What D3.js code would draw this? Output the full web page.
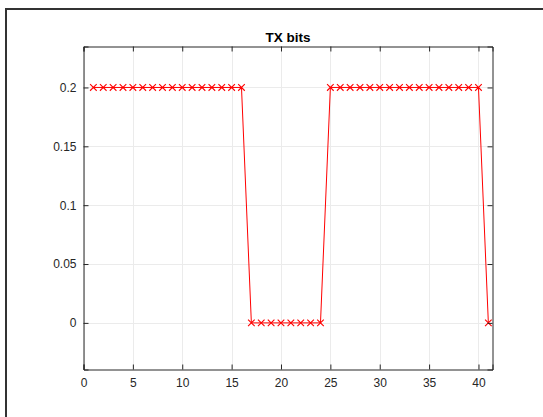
<!DOCTYPE html>
<html>
<head>
<meta charset="utf-8">
<script src="https://cdn.jsdelivr.net/npm/d3@7"></script>
<style>
body { margin: 0; background: #fff; }
svg { display: block; font-family: Helvetica, "Liberation Sans", Arial, sans-serif; }
</style>
</head>
<body>
<svg id="chart" width="543" height="417"></svg>
<script>
// bit index and transmitted level
const samples = d3.range(1, 42);
const levels = [
  0.2, 0.2, 0.2, 0.2, 0.2, 0.2, 0.2, 0.2, 0.2, 0.2, 0.2, 0.2, 0.2, 0.2, 0.2, 0.2,
  0, 0, 0, 0, 0, 0, 0, 0,
  0.2, 0.2, 0.2, 0.2, 0.2, 0.2, 0.2, 0.2, 0.2, 0.2, 0.2, 0.2, 0.2, 0.2, 0.2, 0.2,
  0
];
const xTicks = [0, 5, 10, 15, 20, 25, 30, 35, 40];
const yTicks = [0, 0.05, 0.1, 0.15, 0.2];
const data = samples.map((s, i) => ({ x: s, y: levels[i] }));

const svg = d3.select('#chart');
const L = 83.5, R = 492.5, T = 46.5, B = 369.5;

// figure frame
svg.append('path')
  .attr('d', `M6,417 V9 H543`)
  .attr('fill', 'none')
  .attr('stroke', '#333')
  .attr('stroke-width', 2);

const xScale = d3.scaleLinear().domain([0, 41.42]).range([L, R]);
const yScale = d3.scaleLinear().domain([-0.0396, 0.2348]).range([B, T]);

// grid
const grid = svg.append('g').attr('stroke', '#ebebeb').attr('stroke-width', 1);
grid.selectAll('.gx').data(xTicks).join('line')
  .attr('x1', d => Math.round(xScale(d)) + 0.5).attr('x2', d => Math.round(xScale(d)) + 0.5)
  .attr('y1', T).attr('y2', B);
grid.selectAll('.gy').data(yTicks).join('line')
  .attr('y1', d => Math.round(yScale(d)) + 0.5).attr('y2', d => Math.round(yScale(d)) + 0.5)
  .attr('x1', L).attr('x2', R);

// line + markers
const line = d3.line().x(d => xScale(d.x)).y(d => yScale(d.y));
svg.append('path')
  .datum(data)
  .attr('d', line)
  .attr('fill', 'none')
  .attr('stroke', '#ff0000')
  .attr('stroke-width', 1);

const m = 3.3;
svg.append('g').selectAll('path').data(data).join('path')
  .attr('d', d => {
    const cx = xScale(d.x), cy = yScale(d.y);
    return `M${cx - m},${cy - m}L${cx + m},${cy + m}M${cx - m},${cy + m}L${cx + m},${cy - m}`;
  })
  .attr('fill', 'none')
  .attr('stroke', '#ff0000')
  .attr('stroke-width', 1.1);

// axes (ticks inward, box on)
const tickColor = '#262626';
const axB = svg.append('g').attr('transform', `translate(0,${B})`)
  .call(d3.axisBottom(xScale).tickValues(xTicks).tickSize(-5).tickPadding(9).tickFormat(d3.format('d')));
const axT = svg.append('g').attr('transform', `translate(0,${T})`)
  .call(d3.axisTop(xScale).tickValues(xTicks).tickSize(-5).tickFormat(''));
const axL = svg.append('g').attr('transform', `translate(${L},0)`)
  .call(d3.axisLeft(yScale).tickValues(yTicks).tickSize(-5).tickPadding(7).tickFormat(d => d === 0 ? '0' : d3.format('')(d)));
const axR = svg.append('g').attr('transform', `translate(${R},0)`)
  .call(d3.axisRight(yScale).tickValues(yTicks).tickSize(-5).tickFormat(''));

[axB, axT, axL, axR].forEach(a => {
  a.select('.domain').attr('stroke', tickColor).attr('stroke-width', 1);
  a.selectAll('.tick line').attr('stroke', tickColor);
  a.selectAll('.tick text').attr('fill', tickColor).attr('font-size', 12)
    .attr('font-family', 'Helvetica, "Liberation Sans", Arial, sans-serif');
});

svg.append('text')
  .attr('x', (L + R) / 2)
  .attr('y', 42)
  .attr('text-anchor', 'middle')
  .attr('font-weight', 'bold')
  .attr('font-size', 13.5)
  .attr('font-family', 'Helvetica, "Liberation Sans", Arial, sans-serif')
  .attr('fill', '#000')
  .text('TX bits');
</script>
</body>
</html>
